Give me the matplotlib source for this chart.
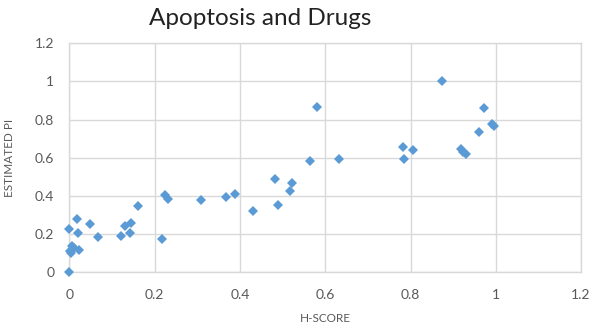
import matplotlib.pyplot as plt

# H-score vs estimated PI, one point per sample
h_score = [0.000, 0.000, 0.003, 0.005, 0.010, 0.022, 0.002, 0.018, 0.019, 0.048,
           0.066, 0.121, 0.130, 0.144, 0.142, 0.161, 0.216, 0.224, 0.232,
           0.309, 0.366, 0.388, 0.430, 0.482, 0.490, 0.521, 0.517,
           0.564, 0.581, 0.633, 0.782, 0.785, 0.805,
           0.875, 0.918, 0.924, 0.930, 0.960, 0.972, 0.990, 0.995]
estimated_pi = [0.000, 0.225, 0.100, 0.140, 0.130, 0.117, 0.110, 0.280, 0.204, 0.253,
                0.183, 0.190, 0.243, 0.257, 0.204, 0.347, 0.175, 0.405, 0.384,
                0.379, 0.393, 0.409, 0.320, 0.489, 0.354, 0.466, 0.428,
                0.585, 0.868, 0.592, 0.655, 0.595, 0.641,
                1.003, 0.645, 0.630, 0.618, 0.734, 0.860, 0.778, 0.765]

ticks = [0, 0.2, 0.4, 0.6, 0.8, 1.0, 1.2]
tick_labels = ["0", "0.2", "0.4", "0.6", "0.8", "1", "1.2"]

plt.rcParams["font.family"] = ["Lato", "DejaVu Sans"]
grey = "#595959"
grid = "#d9d9d9"

fig = plt.figure(figsize=(5.95, 3.31), dpi=100)
ax = fig.add_axes([0.1168, 0.1773, 0.8597, 0.6919])

ax.plot(h_score, estimated_pi, linestyle="none", marker="D", markersize=5.2,
        color="#5b9bd5", markeredgewidth=0, zorder=3, clip_on=False)

ax.set_xlim(0, 1.2)
ax.set_ylim(0, 1.2)
ax.set_xticks(ticks)
ax.set_xticklabels(tick_labels)
ax.set_yticks(ticks)
ax.set_yticklabels(tick_labels)
ax.tick_params(length=0, labelsize=10, labelcolor=grey)
ax.tick_params(axis="x", pad=12)
ax.tick_params(axis="y", pad=11)
ax.grid(True, color=grid, linewidth=1)
ax.set_axisbelow(True)
for side in ax.spines.values():
    side.set_color(grid)
    side.set_linewidth(1)

ax.set_xlabel("H-SCORE", fontsize=8.5, color=grey, labelpad=9)
ax.set_ylabel("ESTIMATED PI", fontsize=8.5, color=grey, labelpad=14)

fig.text(0.437, 0.945, "Apoptosis and Drugs", fontsize=17.5, color="#222222",
         ha="center", va="center")

fig.savefig("out.png", dpi=100)
